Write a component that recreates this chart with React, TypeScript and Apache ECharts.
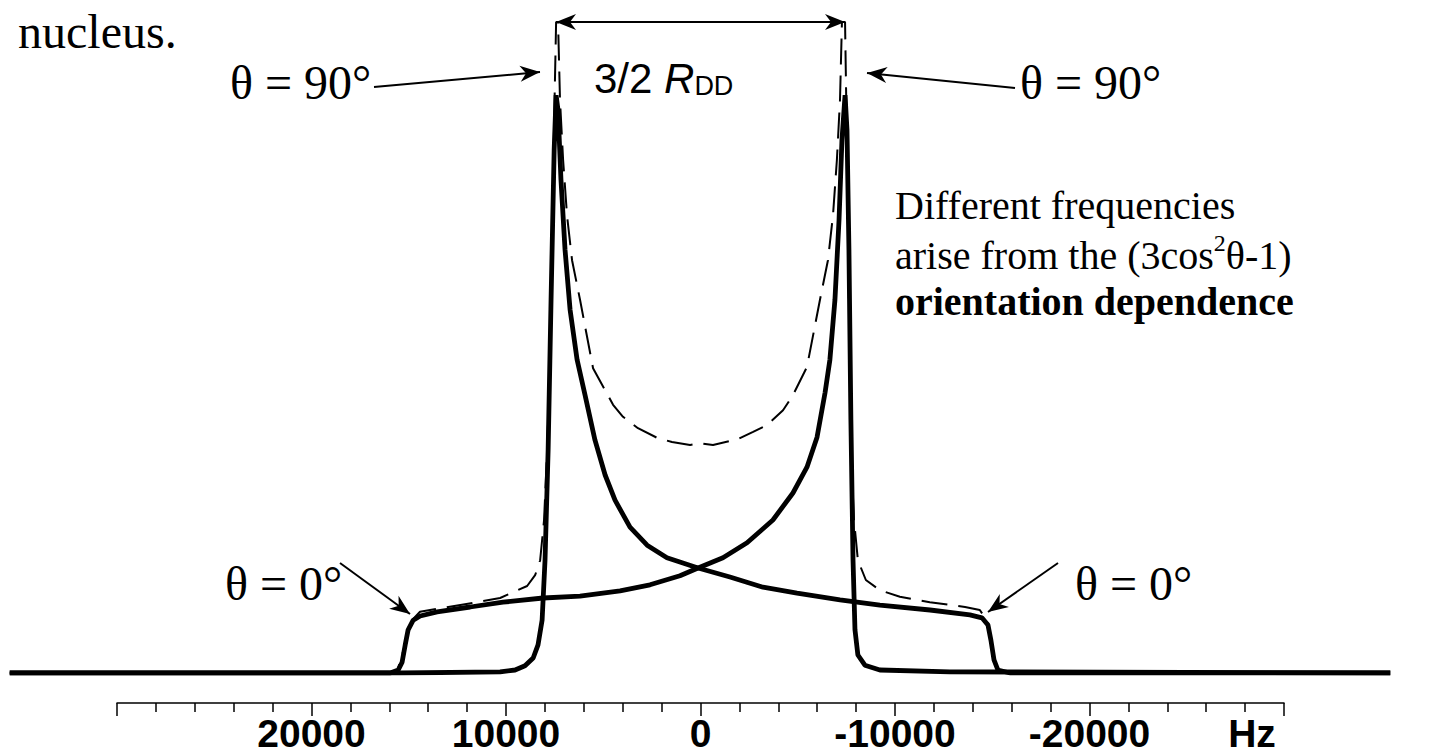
import React, { useEffect, useRef } from "react";
import * as echarts from "echarts";

// Frequency (Hz) and intensity readings
const hzA = [35500, 15420, 10280, 9510, 9000, 8580, 8330, 8120, 7970, 7810, 7660, 7500, 7400, 7300, 7150, 6940, 6680, 6320, 5910, 5400, 4880, 4370, 3600, 2720, 1700, 100, -1540, -3240, -4990, -7200, -9250, -11830, -13880, -14500, -14810, -14960, -15120, -15320, -15940, -35500];
const intA = [0, 0, 0.2, 0.5, 1.2, 2.5, 4.7, 8.8, 18.8, 37.2, 62.2, 87.2, 96.3, 93.8, 82.2, 70.5, 60.5, 52.2, 46.3, 38.8, 33, 28.8, 24.3, 21.3, 19.2, 17.5, 16, 14.3, 13.3, 12.2, 11.3, 10.5, 9.7, 9.2, 8, 5.5, 2.2, 0.5, 0, 0];

const hzB = [35500, 15930, 15520, 15320, 15160, 15010, 14750, 14390, 13520, 11820, 10130, 8070, 6170, 4110, 2570, 1030, 100, -1180, -2420, -3750, -4780, -5500, -6020, -6430, -6680, -6940, -7150, -7300, -7460, -7560, -7660, -7760, -7870, -7970, -8120, -8480, -9250, -12850, -35500];
const intB = [0, 0, 0.5, 1.8, 4.7, 7.2, 8.8, 9.5, 10.2, 11, 11.8, 12.5, 12.8, 13.7, 14.7, 16.2, 17.5, 19.2, 21.7, 25.5, 30, 34.3, 39.3, 46.7, 52.2, 62.2, 75.5, 88.8, 96.3, 90.5, 70.5, 42.2, 18.8, 7.2, 3, 1.3, 0.5, 0.2, 0];

const hzSum = [35500, 15600, 15250, 14900, 14400, 13520, 11670, 10280, 8890, 8480, 8220, 8020, 7860, 7710, 7600, 7500, 7400, 7300, 7200, 7040, 6840, 6580, 6170, 5500, 4470, 3960, 3190, 2210, 1440, 510, 0, -670, -1950, -2730, -3440, -4270, -4780, -5500, -6170, -6580, -6840, -7040, -7200, -7300, -7460, -7560, -7660, -7760, -7920, -8120, -8530, -9250, -10280, -11820, -13630, -14390, -14810, -15000, -15200, -15500, -35500];
const intSum = [0, 0, 3.8, 8.5, 10.2, 10.7, 11.7, 12.5, 14.5, 16.3, 18.8, 25.5, 37.2, 53.8, 70.5, 92.2, 108.5, 108.5, 95.5, 85.5, 76.3, 68.8, 62.2, 50.8, 44.7, 42.7, 40.8, 39.2, 38.5, 38, 38.3, 38, 39, 40.2, 41.3, 43.8, 46.3, 51, 62.2, 68.8, 76.3, 85.5, 95.5, 108.5, 108.5, 87, 62, 37, 25.5, 18.8, 15.5, 13.8, 12.7, 11.8, 11, 10.5, 8.5, 5, 1.5, 0, 0];

const tickLabels = [20000, 10000, 0, -10000, -20000];

const SERIF = "'Liberation Serif', 'Times New Roman', serif";
const SANS = "'Liberation Sans', Arial, sans-serif";

function arrowHead(x1: number, y1: number, x2: number, y2: number, head = 20, half = 8) {
  const L = Math.hypot(x2 - x1, y2 - y1);
  const ux = (x2 - x1) / L, uy = (y2 - y1) / L;
  const px = -uy, py = ux;
  const bx = x2 - ux * head, by = y2 - uy * head;
  const nx = x2 - ux * head * 0.7, ny = y2 - uy * head * 0.7;
  return {
    type: "polygon",
    shape: { points: [[x2, y2], [bx + px * half, by + py * half], [nx, ny], [bx - px * half, by - py * half]] },
    style: { fill: "#000" },
  };
}

function arrow(x1: number, y1: number, x2: number, y2: number, both = false) {
  const els: any[] = [
    { type: "line", shape: { x1, y1, x2, y2 }, style: { stroke: "#000", lineWidth: 2 } },
    arrowHead(x1, y1, x2, y2),
  ];
  if (both) els.push(arrowHead(x2, y2, x1, y1));
  return els;
}

function textEl(x: number, y: number, text: string, size: number, extra: any = {}) {
  return {
    type: "text",
    x,
    y,
    style: { text, fontFamily: SERIF, fontSize: size, fill: "#000", verticalAlign: "middle", align: "left", ...extra },
  };
}

export default function App() {
  const ref = useRef<HTMLDivElement>(null);
  useEffect(() => {
    if (!ref.current) return;
    const chart = echarts.init(ref.current, undefined, { renderer: "svg" });
    const toPairs = (xs: number[], ys: number[]) => xs.map((x, i) => [x, ys[i]]);
    chart.setOption({
      animation: false,
      backgroundColor: "#fff",
      grid: [
        { left: 0, width: 1400, top: 13, height: 660 },
        { left: 117, width: 1167, top: 690, height: 13 },
      ],
      xAxis: [
        { type: "value", gridIndex: 0, min: -36000, max: 36000, inverse: true, show: false },
        {
          type: "value",
          gridIndex: 1,
          min: -30000,
          max: 30000,
          interval: 10000,
          inverse: true,
          position: "bottom",
          axisLine: { show: true, lineStyle: { color: "#000", width: 1.5 } },
          axisTick: { show: true, length: 13, lineStyle: { color: "#000", width: 1.5 } },
          minorTick: { show: true, splitNumber: 5, length: 9, lineStyle: { color: "#000", width: 1.5 } },
          splitLine: { show: false },
          axisLabel: {
            show: true,
            margin: 11,
            fontFamily: SANS,
            fontWeight: "bold",
            fontSize: 39,
            color: "#000",
            formatter: (v: number) => (tickLabels.includes(v) ? String(v) : ""),
          },
        },
      ],
      yAxis: [
        { type: "value", gridIndex: 0, min: 0, max: 110, show: false },
        { type: "value", gridIndex: 1, min: 0, max: 1, show: false },
      ],
      series: [
        {
          type: "line",
          xAxisIndex: 0,
          yAxisIndex: 0,
          data: toPairs(hzA, intA),
          symbol: "none",
          lineStyle: { color: "#000", width: 4.8 },
        },
        {
          type: "line",
          xAxisIndex: 0,
          yAxisIndex: 0,
          data: toPairs(hzB, intB),
          symbol: "none",
          lineStyle: { color: "#000", width: 4.8 },
        },
        {
          type: "line",
          xAxisIndex: 0,
          yAxisIndex: 0,
          data: toPairs(hzSum, intSum),
          symbol: "none",
          lineStyle: { color: "#000", width: 2, type: [26, 11] },
        },
        { type: "line", xAxisIndex: 1, yAxisIndex: 1, data: [], symbol: "none" },
      ],
      graphic: [
        textEl(18, 31, "nucleus.", 48),
        textEl(230, 82, "θ = 90°", 48),
        textEl(1020, 82, "θ = 90°", 48),
        textEl(225, 583, "θ = 0°", 48),
        textEl(1075, 583, "θ = 0°", 48),
        {
          type: "text",
          x: 594,
          y: 76,
          style: {
            text: "{a|3/2 }{i|R}{s|DD}",
            verticalAlign: "middle",
            rich: {
              a: { fontFamily: SANS, fontSize: 42, fill: "#000", lineHeight: 46, verticalAlign: "bottom" },
              i: { fontFamily: SANS, fontSize: 42, fontStyle: "italic", fill: "#000", lineHeight: 46, verticalAlign: "bottom" },
              s: { fontFamily: SANS, fontSize: 27, fill: "#000", lineHeight: 24, verticalAlign: "bottom" },
            },
          },
        },
        textEl(895, 205, "Different frequencies", 40),
        {
          type: "text",
          x: 895,
          y: 253,
          style: {
            text: "{a|arise from the (3cos}{s|2}{a|θ-1)}",
            verticalAlign: "middle",
            rich: {
              a: { fontFamily: SERIF, fontSize: 40, fill: "#000", lineHeight: 44, verticalAlign: "bottom" },
              s: { fontFamily: SERIF, fontSize: 24, fill: "#000", lineHeight: 44, verticalAlign: "top" },
            },
          },
        },
        textEl(895, 301, "orientation dependence", 40, { fontWeight: "bold" }),
        {
          type: "text",
          x: 1252,
          y: 733,
          style: { text: "Hz", fontFamily: SANS, fontWeight: "bold", fontSize: 39, fill: "#000", align: "center", verticalAlign: "middle" },
        },
        ...arrow(556, 22, 845, 22, true),
        ...arrow(374, 87, 540, 72),
        ...arrow(1015, 88, 867, 73),
        ...arrow(340, 563, 410, 614),
        ...arrow(1058, 563, 988, 612),
      ],
    });
    return () => chart.dispose();
  }, []);
  return <div ref={ref} style={{ position: "fixed", left: 0, top: 0, width: 1434, height: 755 }} />;
}
